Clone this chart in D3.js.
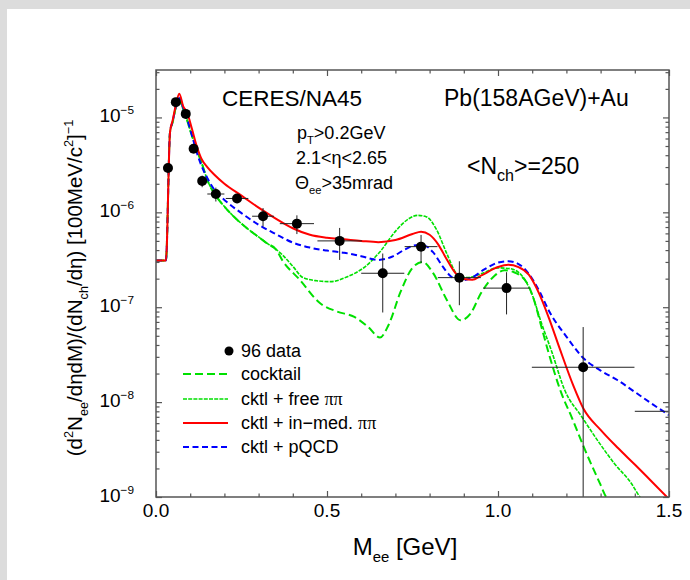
<!DOCTYPE html>
<html>
<head>
<meta charset="utf-8">
<script src="https://cdn.jsdelivr.net/npm/d3@7"></script>
<style>
  body { margin: 0; background: #fff; }
  svg { display: block; }
  text { font-family: "Liberation Sans", Arial, Helvetica, sans-serif; fill: #000; }
</style>
</head>
<body>
<svg id="chart" width="690" height="580"></svg>
<script>
// ---- measured dielectron spectrum (CERES/NA45 '96) ----
const dataMass  = [0.035, 0.058, 0.087, 0.110, 0.135, 0.175, 0.237, 0.313, 0.412, 0.537, 0.663, 0.775, 0.887, 1.025, 1.249, 1.55];
const dataYield = [2.93e-6, 1.45e-5, 1.09e-5, 4.68e-6, 2.14e-6, 1.56e-6, 1.40e-6, 9.1e-7, 7.6e-7, 5.0e-7, 2.28e-7, 4.35e-7, 2.05e-7, 1.59e-7, 2.33e-8, 8.0e-9];
const dataErrM  = [0.005, 0.008, 0.008, 0.010, 0.012, 0.025, 0.033, 0.032, 0.050, 0.065, 0.063, 0.048, 0.063, 0.068, 0.150, 0.150];
const dataErrY  = [1e-7, 3e-7, 3e-7, 2e-7, 3e-7, 2.6e-7, 1.5e-7, 2e-7, 1.7e-7, 1.85e-7, 1.4e-7, 1.43e-7, 1.0e-7, 7.5e-8, 3.85e-8, 0];

// ---- model curves ----
const lowM = [0, 0.029, 0.041, 0.049, 0.058, 0.068, 0.08, 0.09, 0.1, 0.12, 0.135, 0.15, 0.175, 0.2, 0.225, 0.25, 0.275, 0.3, 0.325, 0.35];
const lowGreenY = [3.1e-7, 3.1e-7, 7.0e-6, 9.0e-6, 1.28e-5, 1.5e-5, 1.2e-5, 9.6e-6, 7.3e-6, 4.5e-6, 3.2e-6, 2.2e-6, 1.5e-6, 1.15e-6, 9.2e-7, 7.6e-7, 6.4e-7, 5.5e-7, 4.7e-7, 4.1e-7];

const cocktailM = lowM.concat([0.37, 0.42, 0.48, 0.53, 0.58, 0.62, 0.655, 0.68, 0.715, 0.75, 0.78, 0.81, 0.85, 0.89, 0.92, 0.95, 0.99, 1.02, 1.045, 1.085, 1.105, 1.127, 1.146, 1.185, 1.215, 1.255, 1.298, 1.316, 1.33]);
const cocktailY = lowGreenY.concat([3.1e-7, 1.95e-7, 1.1e-7, 9.0e-8, 7.9e-8, 6.2e-8, 4.8e-8, 6.5e-8, 1.45e-7, 2.6e-7, 3.0e-7, 2.3e-7, 1.2e-7, 7.3e-8, 8.6e-8, 1.4e-7, 2.15e-7, 2.45e-7, 2.35e-7, 1.8e-7, 1.2e-7, 6.2e-8, 3.5e-8, 1.25e-8, 7.0e-9, 3.1e-9, 1.39e-9, 1.0e-9, 0.85e-9]);

const freeM = lowM.concat([0.37, 0.4, 0.43, 0.47, 0.51, 0.56, 0.61, 0.655, 0.7, 0.74, 0.765, 0.79, 0.82, 0.85, 0.88, 0.91, 0.95, 1.0, 1.035, 1.07, 1.1, 1.127, 1.156, 1.195, 1.245, 1.29, 1.34, 1.39, 1.415, 1.44]);
const freeY = lowGreenY.concat([3.55e-7, 2.7e-7, 2.05e-7, 1.9e-7, 1.86e-7, 2.1e-7, 2.65e-7, 3.85e-7, 6.3e-7, 8.6e-7, 9.3e-7, 9.0e-7, 6.6e-7, 3.7e-7, 2.25e-7, 2.05e-7, 2.25e-7, 2.6e-7, 2.55e-7, 2.15e-7, 1.35e-7, 6.8e-8, 3.5e-8, 1.34e-8, 7.0e-9, 4.0e-9, 2.26e-9, 1.39e-9, 1.0e-9, 0.8e-9]);

const inmedM = [0, 0.029, 0.041, 0.049, 0.058, 0.068, 0.08, 0.09, 0.105, 0.119, 0.134, 0.15, 0.17, 0.2, 0.25, 0.3, 0.35, 0.4, 0.45, 0.5, 0.55, 0.6, 0.65, 0.7, 0.75, 0.775, 0.8, 0.825, 0.85, 0.875, 0.9, 0.925, 0.95, 1.0, 1.03, 1.06, 1.09, 1.12, 1.15, 1.18, 1.22, 1.25, 1.3, 1.35, 1.4, 1.45, 1.5];
const inmedY = [3.1e-7, 3.1e-7, 7.0e-6, 9.4e-6, 1.35e-5, 1.78e-5, 1.3e-5, 1.15e-5, 7.6e-6, 5.0e-6, 3.6e-6, 3.0e-6, 2.5e-6, 2.0e-6, 1.5e-6, 1.12e-6, 8.6e-7, 6.8e-7, 5.8e-7, 5.4e-7, 5.2e-7, 5.0e-7, 4.85e-7, 5.1e-7, 5.9e-7, 6.25e-7, 5.8e-7, 4.6e-7, 3.2e-7, 2.3e-7, 1.98e-7, 1.95e-7, 2.15e-7, 2.65e-7, 2.8e-7, 2.65e-7, 2.2e-7, 1.4e-7, 7.5e-8, 3.7e-8, 1.5e-8, 8.5e-9, 5.1e-9, 3.3e-9, 2.2e-9, 1.45e-9, 0.95e-9];

const pqcdM = [0, 0.029, 0.041, 0.049, 0.058, 0.068, 0.08, 0.09, 0.1, 0.11, 0.12, 0.13, 0.15, 0.175, 0.2, 0.25, 0.3, 0.35, 0.4, 0.45, 0.5, 0.55, 0.6, 0.65, 0.69, 0.73, 0.76, 0.785, 0.81, 0.835, 0.86, 0.89, 0.92, 0.96, 1.0, 1.03, 1.06, 1.09, 1.12, 1.15, 1.2, 1.25, 1.3, 1.35, 1.4, 1.45, 1.5];
const pqcdY = [3.1e-7, 3.1e-7, 7.0e-6, 9.2e-6, 1.3e-5, 1.6e-5, 1.25e-5, 1.0e-5, 7.5e-6, 5.6e-6, 4.2e-6, 3.3e-6, 2.3e-6, 1.65e-6, 1.35e-6, 9.8e-7, 7.4e-7, 5.9e-7, 4.8e-7, 4.25e-7, 3.95e-7, 3.75e-7, 3.45e-7, 3.15e-7, 3.4e-7, 4.1e-7, 4.5e-7, 4.45e-7, 3.8e-7, 2.8e-7, 2.15e-7, 1.92e-7, 2.02e-7, 2.5e-7, 2.95e-7, 3.05e-7, 2.85e-7, 2.25e-7, 1.5e-7, 9.0e-8, 4.9e-8, 2.9e-8, 2.15e-8, 1.7e-8, 1.28e-8, 9.6e-9, 7.3e-9];

// ---- axes ----
const xDomain = [0, 1.5];
const yDomain = [1e-9, Math.pow(10, -4.5)];
const xMajorTicks = [0, 0.5, 1.0, 1.5];
const xTickLabels = ["0.0", "0.5", "1.0", "1.5"];
const yDecades = [-9, -8, -7, -6, -5];

const legendItems = [
  { key: "cocktail", parts: [{ t: "cocktail" }] },
  { key: "free",     parts: [{ t: "cktl + free " }, { t: "ππ", serif: true }] },
  { key: "inmed",    parts: [{ t: "cktl + in\u2212med. " }, { t: "ππ", serif: true }] },
  { key: "pqcd",     parts: [{ t: "cktl + pQCD" }] }
];

const styles = {
  cocktail: { color: "#00e000", width: 2,   dash: "8,4" },
  free:     { color: "#00e000", width: 1.6, dash: "4,1.2" },
  inmed:    { color: "#ff0000", width: 2,   dash: null },
  pqcd:     { color: "#0000ff", width: 2,   dash: "6,3.5" }
};
const curves = {
  cocktail: [cocktailM, cocktailY],
  free: [freeM, freeY],
  inmed: [inmedM, inmedY],
  pqcd: [pqcdM, pqcdY]
};

(function draw() {
  const svg = d3.select("#chart");
  const pL = 156, pR = 669, pT = 70, pB = 497;

  // page frame
  svg.append("rect").attr("width", 690).attr("height", 580).attr("fill", "#fff");
  svg.append("rect").attr("x", 0).attr("y", 0).attr("width", 690).attr("height", 9).attr("fill", "#dcdcdc");
  svg.append("rect").attr("x", 0).attr("y", 0).attr("width", 7).attr("height", 580).attr("fill", "#dcdcdc");

  const x = d3.scaleLinear().domain(xDomain).range([pL, pR]);
  const y = d3.scaleLog().domain(yDomain).range([pB, pT]);

  // rich text helper: sup / sub segments
  function rich(textSel, parts, size, subScale = 0.62) {
    let off = 0;
    parts.forEach(p => {
      const target = p.sup ? -0.42 * size : p.sub ? 0.3 * size : 0;
      const ts = textSel.append("tspan").text(p.t).attr("dy", (target - off).toFixed(2));
      if (p.sup || p.sub) ts.attr("font-size", (subScale * size).toFixed(1));
      if (p.serif) ts.attr("font-family", "'Liberation Serif', 'DejaVu Serif', serif");
      off = target;
    });
  }

  svg.append("defs").append("clipPath").attr("id", "plotClip")
    .append("rect").attr("x", pL).attr("y", pT).attr("width", pR - pL).attr("height", pB - pT);

  const plot = svg.append("g").attr("clip-path", "url(#plotClip)");

  // model curves
  const line = d3.line().x(d => x(d[0])).y(d => y(d[1])).curve(d3.curveMonotoneX);
  ["cocktail", "free", "pqcd", "inmed"].forEach(k => {
    const [ms, vs] = curves[k];
    const st = styles[k];
    plot.append("path")
      .attr("d", line(ms.map((m, i) => [m, vs[i]])))
      .attr("fill", "none")
      .attr("stroke", st.color)
      .attr("stroke-width", st.width)
      .attr("stroke-dasharray", st.dash);
  });

  // data with error bars
  const pts = dataMass.map((m, i) => ({ m, v: dataYield[i], ex: dataErrM[i], ey: dataErrY[i] }));
  const eb = plot.append("g").attr("stroke", "#222").attr("stroke-width", 1);
  pts.forEach(p => {
    eb.append("line").attr("x1", x(p.m - p.ex)).attr("x2", x(p.m + p.ex)).attr("y1", y(p.v)).attr("y2", y(p.v));
    if (p.ey > 0) {
      const lo = p.v - p.ey > 0 ? y(p.v - p.ey) : pB + 5;
      eb.append("line").attr("x1", x(p.m)).attr("x2", x(p.m)).attr("y1", y(p.v + p.ey)).attr("y2", lo);
    }
  });
  plot.append("g").selectAll("circle").data(pts).join("circle")
    .attr("cx", d => x(d.m)).attr("cy", d => y(d.v)).attr("r", 5).attr("fill", "#000");

  // axes (ticks drawn inward on all four sides)
  const minorX = d3.range(0, 15.01, 1).map(v => v / 10).filter(v => !xMajorTicks.some(t => Math.abs(t - v) < 1e-9));
  const minorY = [];
  for (let e = -9; e <= -5; e++) for (let k = 2; k <= 9; k++) {
    const v = k * Math.pow(10, e);
    if (v <= yDomain[1]) minorY.push(v);
  }
  const majorY = yDecades.map(e => Math.pow(10, e));
  const axisColor = "#555";
  function styleAxis(g) {
    g.select(".domain").remove();
    g.selectAll("line").attr("stroke", axisColor).attr("stroke-width", 1.2);
    g.selectAll("text").remove();
  }
  svg.append("g").attr("transform", `translate(0,${pT})`).call(d3.axisBottom(x).tickValues(xMajorTicks).tickSize(6)).call(styleAxis);
  svg.append("g").attr("transform", `translate(0,${pT})`).call(d3.axisBottom(x).tickValues(minorX).tickSize(3.5)).call(styleAxis);
  svg.append("g").attr("transform", `translate(0,${pB})`).call(d3.axisTop(x).tickValues(xMajorTicks).tickSize(6)).call(styleAxis);
  svg.append("g").attr("transform", `translate(0,${pB})`).call(d3.axisTop(x).tickValues(minorX).tickSize(3.5)).call(styleAxis);
  svg.append("g").attr("transform", `translate(${pL},0)`).call(d3.axisRight(y).tickValues(majorY).tickSize(6)).call(styleAxis);
  svg.append("g").attr("transform", `translate(${pL},0)`).call(d3.axisRight(y).tickValues(minorY).tickSize(3.5)).call(styleAxis);
  svg.append("g").attr("transform", `translate(${pR},0)`).call(d3.axisLeft(y).tickValues(majorY).tickSize(6)).call(styleAxis);
  svg.append("g").attr("transform", `translate(${pR},0)`).call(d3.axisLeft(y).tickValues(minorY).tickSize(3.5)).call(styleAxis);

  svg.append("rect").attr("x", pL).attr("y", pT).attr("width", pR - pL).attr("height", pB - pT)
    .attr("fill", "none").attr("stroke", axisColor).attr("stroke-width", 1.5);

  // tick labels
  xMajorTicks.forEach((t, i) => {
    svg.append("text").attr("x", x(t)).attr("y", 517).attr("text-anchor", "middle")
      .attr("font-size", 19).text(xTickLabels[i]);
  });
  yDecades.forEach(e => {
    const tx = svg.append("text").attr("x", 134).attr("y", y(Math.pow(10, e)) + 5)
      .attr("text-anchor", "end").attr("font-size", 19);
    rich(tx, [{ t: "10" }, { t: "\u2212" + Math.abs(e), sup: true }], 19);
  });

  // axis titles
  const xt = svg.append("text").attr("x", 405).attr("y", 555).attr("text-anchor", "middle").attr("font-size", 24);
  rich(xt, [{ t: "M" }, { t: "ee", sub: true }, { t: " [GeV]" }], 24);

  const yt = svg.append("text").attr("transform", "translate(82,288) rotate(-90)").attr("text-anchor", "middle").attr("font-size", 20.5);
  rich(yt, [
    { t: "(d" }, { t: "2", sup: true }, { t: "N" }, { t: "ee", sub: true }, { t: "/dηdM)/(dN" },
    { t: "ch", sub: true }, { t: "/dη) [100MeV/c" }, { t: "2", sup: true }, { t: "]" }, { t: "\u22121", sup: true }
  ], 20.5);

  // annotations
  svg.append("text").attr("x", 222).attr("y", 106).attr("font-size", 22.5).text("CERES/NA45");
  svg.append("text").attr("x", 444).attr("y", 106).attr("font-size", 23).text("Pb(158AGeV)+Au");
  rich(svg.append("text").attr("x", 297).attr("y", 139).attr("font-size", 18), [{ t: "p" }, { t: "T", sub: true }, { t: ">0.2GeV" }], 18);
  svg.append("text").attr("x", 296).attr("y", 164).attr("font-size", 18).text("2.1<η<2.65");
  rich(svg.append("text").attr("x", 295).attr("y", 189).attr("font-size", 18), [{ t: "Θ" }, { t: "ee", sub: true }, { t: ">35mrad" }], 18);
  rich(svg.append("text").attr("x", 467).attr("y", 174).attr("font-size", 23), [{ t: "<N" }, { t: "ch", sub: true }, { t: ">=250" }], 23, 0.7);

  // legend
  const legX0 = 183, legX1 = 228, legText = 241;
  svg.append("circle").attr("cx", 229).attr("cy", 351).attr("r", 4.5).attr("fill", "#000");
  svg.append("text").attr("x", legText).attr("y", 357).attr("font-size", 18).text("96 data");
  const rowY = [374, 399, 423, 447];
  legendItems.forEach((it, i) => {
    const st = styles[it.key];
    svg.append("line").attr("x1", legX0).attr("x2", legX1).attr("y1", rowY[i]).attr("y2", rowY[i])
      .attr("stroke", st.color).attr("stroke-width", st.width).attr("stroke-dasharray", st.dash);
    rich(svg.append("text").attr("x", legText).attr("y", rowY[i] + 6).attr("font-size", 18), it.parts, 18);
  });
})();
</script>
</body>
</html>
